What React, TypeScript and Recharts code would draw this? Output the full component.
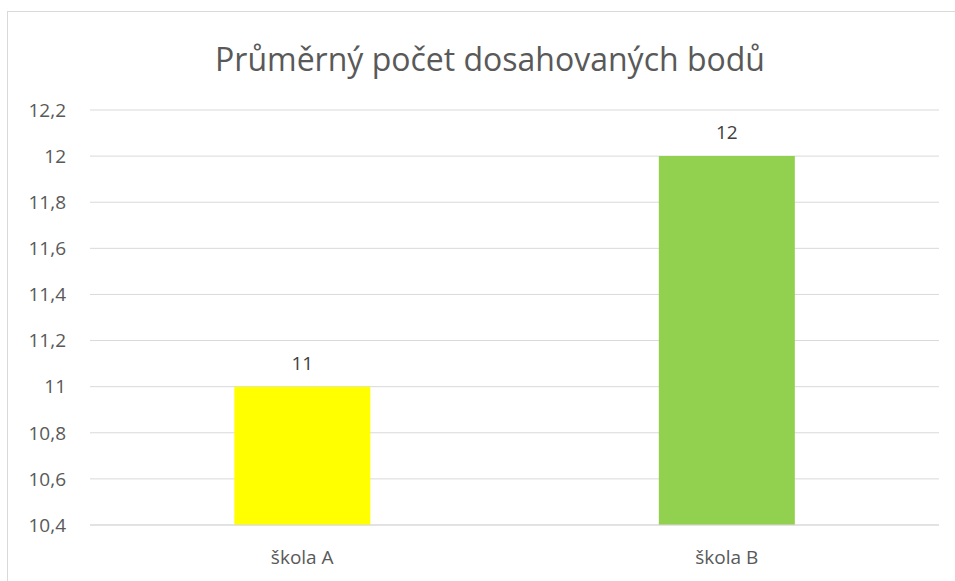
import React from 'react';
import { BarChart, Bar, XAxis, YAxis, CartesianGrid, LabelList, Cell } from 'recharts';

const categories = ['škola A', 'škola B'];
const values = [11, 12];
const barColors = ['#FFFF00', '#92D050'];
const yTicks = [10.4, 10.6, 10.8, 11, 11.2, 11.4, 11.6, 11.8, 12, 12.2];

const data = categories.map((name, i) => ({ name, value: values[i] }));

const font = '"Open Sans", "Liberation Sans", sans-serif';
const fmt = (v: number) => String(Math.round(v * 10) / 10).replace('.', ',');

export default function App() {
  return (
    <div style={{ position: 'absolute', left: 0, top: 0, width: 955, height: 581, background: '#fff', overflow: 'hidden', fontFamily: font }}>
      {/* chart frame */}
      <div style={{ position: 'absolute', left: 7, top: 11, width: 1000, height: 1000, border: '1px solid #d9d9d9' }} />
      <div style={{ position: 'absolute', left: 0, width: 980, top: 37, textAlign: 'center', fontSize: 32, color: '#595959' }}>
        Průměrný počet dosahovaných bodů
      </div>
      <div style={{ position: 'absolute', left: 0, top: 0 }}>
        <BarChart width={955} height={581} data={data} margin={{ top: 110, right: 16, bottom: 10, left: 0 }} barCategoryGap="34%">
          <CartesianGrid vertical={false} stroke="#d9d9d9" />
          <XAxis
            dataKey="name"
            height={46}
            tickLine={false}
            tickSize={0}
            tickMargin={26}
            axisLine={{ stroke: '#d9d9d9' }}
            tick={{ fill: '#595959', fontSize: 19, fontFamily: font }}
          />
          <YAxis
            width={90}
            domain={[10.4, 12.2]}
            ticks={yTicks}
            interval={0}
            tickFormatter={fmt}
            axisLine={false}
            tickLine={false}
            tickSize={0}
            tickMargin={24}
            tick={{ fill: '#595959', fontSize: 19, fontFamily: font }}
          />
          <Bar dataKey="value" isAnimationActive={false}>
            {data.map((d, i) => (
              <Cell key={d.name} fill={barColors[i]} />
            ))}
            <LabelList dataKey="value" position="top" offset={17} formatter={(v: any) => fmt(Number(v))} fill="#404040" fontSize={19} fontFamily={font} />
          </Bar>
        </BarChart>
      </div>
    </div>
  );
}
